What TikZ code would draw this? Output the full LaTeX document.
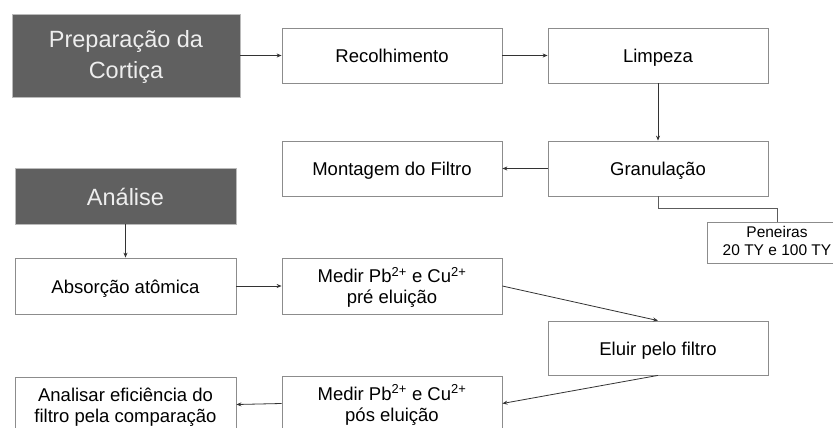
\documentclass[tikz,border=0pt]{standalone}
\usepackage{fontspec}
\setmainfont{Liberation Sans}
\usetikzlibrary{arrows.meta}
\definecolor{darkbox}{HTML}{606060}
\definecolor{darktext}{HTML}{EEEEEE}
\definecolor{boxline}{HTML}{8C8C8C}
\definecolor{arrline}{HTML}{333333}
\begin{document}
\begin{tikzpicture}[x=1pt,y=-1pt,
  stagebox/.style={fill=darkbox,draw=boxline!60,line width=0.6pt,text=darktext,align=center,inner sep=0pt,
    font=\fontsize{23.5}{31}\selectfont},
  stepbox/.style={draw=boxline,line width=0.8pt,fill=white,align=center,inner sep=0pt,
    minimum width=220pt,minimum height=55pt,font=\fontsize{18.5}{21}\selectfont},
  oneline/.style={text height=18pt,text depth=4pt},
  twoline/.style={text height=39pt,text depth=4pt},
  smallbox/.style={draw=boxline,line width=0.8pt,fill=white,align=center,inner sep=0pt,
    font=\fontsize{15.5}{18}\selectfont},
  conn/.style={draw=arrline,line width=0.8pt,-{Stealth[length=5pt,width=4pt]}},
  plainconn/.style={draw=arrline!80,line width=0.8pt}
]
\useasboundingbox (0,0) rectangle (833,428);
\clip (0,0) rectangle (833,428);
\fill[white] (0,0) rectangle (833,428);

\node[stagebox,minimum width=228pt,minimum height=83pt,text height=53pt,text depth=8pt] (prep) at (126,55.5) {Preparação da\\Cortiça};
\node[stepbox,oneline] (rec) at (392,55.5) {Recolhimento};
\node[stepbox,oneline] (limp) at (658,55.5) {Limpeza};
\node[stepbox,oneline] (mont) at (392,168.5) {Montagem do Filtro};
\node[stepbox,oneline] (gran) at (658,168.5) {Granulação};
\node[smallbox,minimum width=140pt,minimum height=41pt,text height=32pt,text depth=7pt] (pen) at (777,242.5) {Peneiras\\20 TY e 100 TY};

\node[stagebox,minimum width=221pt,minimum height=56pt,text height=24pt,text depth=6pt] (ana) at (125.5,196) {Análise};
\node[stepbox,oneline,minimum width=221pt,minimum height=56pt] (abs) at (125.5,286) {Absorção atômica};
\node[stepbox,twoline,minimum height=56pt] (mpre) at (392,286) {Medir Pb\textsuperscript{2+} e Cu\textsuperscript{2+}\\pré eluição};
\node[stepbox,oneline,minimum height=54pt] (elu) at (658,348) {Eluir pelo filtro};
\node[stepbox,twoline] (mpos) at (392,403.5) {Medir Pb\textsuperscript{2+} e Cu\textsuperscript{2+}\\pós eluição};
\node[stepbox,twoline,minimum width=221pt] (anl) at (125.5,404.5) {Analisar eficiência do\\filtro pela comparação};

\draw[conn] (prep.east) -- (rec.west);
\draw[conn] (rec.east) -- (limp.west);
\draw[conn] (limp.south) -- (gran.north);
\draw[conn] (gran.west) -- (mont.east);
\draw[plainconn] (gran.south) -- ++(0,12) -| (pen.north);
\draw[conn] (ana.south) -- (abs.north);
\draw[conn] (abs.east) -- (mpre.west);
\draw[conn] (mpre.east) -- (elu.north);
\draw[conn] (elu.south) -- (mpos.east);
\draw[conn] (mpos.west) -- (anl.east);
\end{tikzpicture}
\end{document}
